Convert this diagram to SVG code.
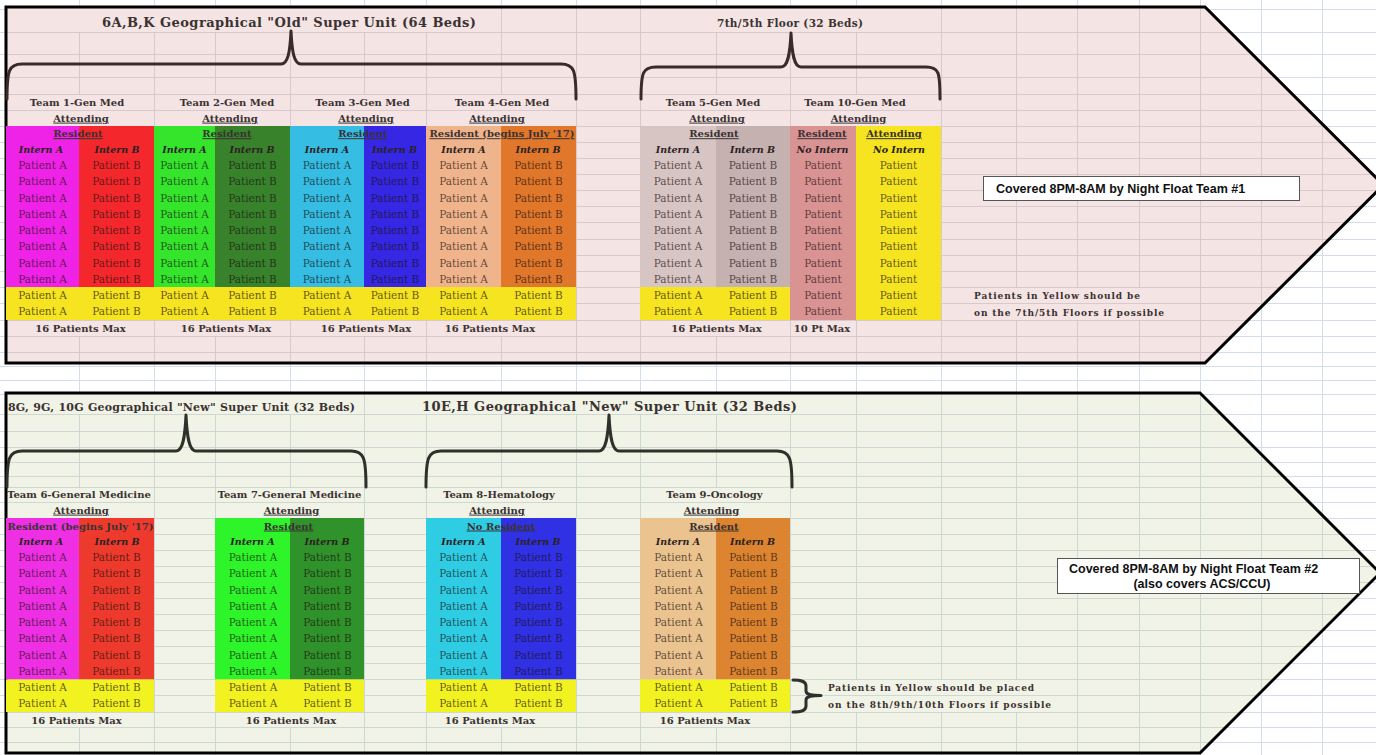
<svg xmlns="http://www.w3.org/2000/svg" width="1376" height="755" viewBox="0 0 1376 755">
<style>
.gout{stroke:#D5DCEA;stroke-width:1;fill:none}
.gtop{stroke:#D8C8D0;stroke-width:1;fill:none}
.gbot{stroke:#CDD7D4;stroke-width:1;fill:none}
.border{stroke:#000;stroke-width:3;fill:none;stroke-linejoin:miter}
.brace{fill:none;stroke:#3a2a2a;stroke-width:3;stroke-linecap:round;stroke-linejoin:round}
.braceb{fill:none;stroke:#2e312b;stroke-width:3;stroke-linecap:round;stroke-linejoin:round}
.p{font-family:"DejaVu Serif",serif;font-size:10.5px;fill:#1a1010;fill-opacity:.7;text-anchor:middle}
.h{font-family:"DejaVu Serif",serif;font-weight:bold;font-size:10px;fill:#3a3232;text-anchor:middle}
.u{text-decoration:underline}
.i{font-family:"DejaVu Serif",serif;font-weight:bold;font-style:italic;font-size:9.5px;fill:#2a2222;text-anchor:middle}
.ti{font-family:"DejaVu Serif",serif;font-weight:bold;fill:#3a3232}
.note{font-family:"DejaVu Serif",serif;font-weight:bold;font-size:9px;fill:#3a3232}
.nf{font-family:"Liberation Sans",Arial,sans-serif;font-weight:bold;font-size:12.5px;fill:#111}
.box{fill:#fff;stroke:#555;stroke-width:1}
.yt{fill:#F5E41F}
.yb{fill:#F2F221}
</style>
<defs>
<clipPath id="clipTop"><polygon points="6,7 1205,7 1383.5,185 1205,363 6,363"/></clipPath>
<clipPath id="clipBot"><polygon points="6,393 1200,393 1380,573 1200,753 6,753"/></clipPath>
</defs>

<rect width="1376" height="755" fill="#fff"/>
<g id="sheet-grid">
<path class="gout" d="M0,9.5H1376M0,32.5H1376M0,54.5H1376M0,77.5H1376M0,94.5H1376M0,110.5H1376M0,126.5H1376M0,142.5H1376M0,158.5H1376M0,174.5H1376M0,190.5H1376M0,206.5H1376M0,222.5H1376M0,239.5H1376M0,255.5H1376M0,271.5H1376M0,287.5H1376M0,303.5H1376M0,320.5H1376M0,336.5H1376M0,352.5H1376M0,366.5H1376M0,380.5H1376M0,394.5H1376M0,414.5H1376M0,431.5H1376M0,447.5H1376M0,462.5H1376M0,476.5H1376M0,487.5H1376M0,502.5H1376M0,518.5H1376M0,534.5H1376M0,550.5H1376M0,566.5H1376M0,582.5H1376M0,598.5H1376M0,614.5H1376M0,630.5H1376M0,646.5H1376M0,663.5H1376M0,679.5H1376M0,695.5H1376M0,712.5H1376M0,727.5H1376M0,742.5H1376"/>
<path class="gout" d="M79.5,0V755M154.5,0V755M215.5,0V755M290.5,0V755M364.5,0V755M426.5,0V755M501.5,0V755M576.5,0V755M640.5,0V755M716.5,0V755M790.5,0V755M856.5,0V755M941.5,0V755M1016.5,0V755M1077.5,0V755M1139.5,0V755M1200.5,0V755M1261.5,0V755M1322.5,0V755"/>
</g>

<g id="section-old">
<polygon points="6,7 1205,7 1383.5,185 1205,363 6,363" fill="#F4E4E4"/>
<g clip-path="url(#clipTop)">
<path class="gtop" d="M6,32.5H1390M6,54.5H1390M6,77.5H1390M6,94.5H1390M6,110.5H1390M6,126.5H1390M6,142.5H1390M6,158.5H1390M6,174.5H1390M6,190.5H1390M6,206.5H1390M6,222.5H1390M6,239.5H1390M6,255.5H1390M6,271.5H1390M6,287.5H1390M6,303.5H1390M6,320.5H1390M6,336.5H1390M6,352.5H1390"/>
<path class="gtop" d="M79.5,32V94M79.5,336V363M154.5,32V363M215.5,32V94M215.5,336V363M290.5,32V363M364.5,32V94M364.5,336V363M426.5,32V363M501.5,7V94M501.5,336V363M576.5,7V363M640.5,7V363M716.5,32V94M716.5,336V363M790.5,32V363M856.5,32V94M856.5,320V363M941.5,7V363M1016.5,7V287M1016.5,320V363M1077.5,7V287M1077.5,320V363M1139.5,7V287M1139.5,320V363M1200.5,7V363M1261.5,7V363M1322.5,7V363"/>
</g>
<polygon class="border" points="6,7 1205,7 1383.5,185 1205,363 6,363"/>
</g>

<g id="section-new">
<polygon points="6,393 1200,393 1380,573 1200,753 6,753" fill="#F0F3E6"/>
<g clip-path="url(#clipBot)">
<path class="gbot" d="M6,414.5H1390M6,431.5H1390M6,447.5H1390M6,462.5H1390M6,476.5H1390M6,487.5H1390M6,502.5H1390M6,518.5H1390M6,534.5H1390M6,550.5H1390M6,566.5H1390M6,582.5H1390M6,598.5H1390M6,614.5H1390M6,630.5H1390M6,646.5H1390M6,663.5H1390M6,679.5H1390M6,695.5H1390M6,712.5H1390M6,727.5H1390M6,742.5H1390"/>
<path class="gbot" d="M79.5,414V487M79.5,727V753M154.5,414V753M215.5,414V753M290.5,414V487M290.5,727V753M364.5,394V753M426.5,414V753M501.5,414V487M501.5,727V753M576.5,414V753M640.5,414V753M716.5,414V487M716.5,727V753M790.5,414V753M856.5,394V679M856.5,712V753M941.5,394V679M941.5,712V753M1016.5,394V679M1016.5,712V753M1077.5,394V753M1139.5,394V753M1200.5,394V753M1261.5,394V753M1322.5,394V753"/>
</g>
<polygon class="border" points="6,393 1200,393 1380,573 1200,753 6,753"/>
</g>

<g id="title-old"><text class="ti" x="289" y="27" font-size="13" text-anchor="middle" textLength="374">6A,B,K Geographical "Old" Super Unit (64 Beds)</text></g>
<g id="title-7th5th"><text class="ti" x="790" y="27" font-size="10.5" text-anchor="middle" textLength="146">7th/5th Floor (32 Beds)</text></g>
<g id="title-new1"><text class="ti" x="8" y="411" font-size="11" textLength="347">8G, 9G, 10G Geographical "New" Super Unit (32 Beds)</text></g>
<g id="title-new2"><text class="ti" x="422" y="411" font-size="13" textLength="375">10E,H Geographical "New" Super Unit (32 Beds)</text></g>

<!-- TEAM 1 -->
<g id="team1">
<rect x="6" y="126" width="73" height="161" fill="#EF23E8"/>
<rect x="79" y="126" width="75" height="161" fill="#F4282C"/>
<rect class="yt" x="6" y="287" width="148" height="33"/>
<g class="h"><text x="77" y="105.6">Team 1-Gen Med</text><text class="u" x="81" y="121.6">Attending</text><text class="u" x="78" y="137.2">Resident</text><text x="80.5" y="331.6">16 Patients Max</text></g>
<g class="i"><text x="41" y="152.9">Intern A</text><text x="117" y="152.9">Intern B</text></g>
<g class="p">
<text x="42.5" y="169.1">Patient A</text><text x="42.5" y="185.3">Patient A</text><text x="42.5" y="201.6">Patient A</text><text x="42.5" y="217.8">Patient A</text><text x="42.5" y="234.1">Patient A</text><text x="42.5" y="250.3">Patient A</text><text x="42.5" y="266.6">Patient A</text><text x="42.5" y="282.8">Patient A</text><text x="42.5" y="299.1">Patient A</text><text x="42.5" y="315.3">Patient A</text>
<text x="116.5" y="169.1">Patient B</text><text x="116.5" y="185.3">Patient B</text><text x="116.5" y="201.6">Patient B</text><text x="116.5" y="217.8">Patient B</text><text x="116.5" y="234.1">Patient B</text><text x="116.5" y="250.3">Patient B</text><text x="116.5" y="266.6">Patient B</text><text x="116.5" y="282.8">Patient B</text><text x="116.5" y="299.1">Patient B</text><text x="116.5" y="315.3">Patient B</text>
</g>
</g>

<!-- TEAM 2 -->
<g id="team2">
<rect x="154" y="126" width="61" height="161" fill="#34E52C"/>
<rect x="215" y="126" width="75" height="161" fill="#37822B"/>
<rect class="yt" x="154" y="287" width="136" height="33"/>
<g class="h"><text x="227" y="105.6">Team 2-Gen Med</text><text class="u" x="230" y="121.6">Attending</text><text class="u" x="227" y="137.2">Resident</text><text x="226" y="331.6">16 Patients Max</text></g>
<g class="i"><text x="184.5" y="152.9">Intern A</text><text x="252" y="152.9">Intern B</text></g>
<g class="p">
<text x="184.5" y="169.1">Patient A</text><text x="184.5" y="185.3">Patient A</text><text x="184.5" y="201.6">Patient A</text><text x="184.5" y="217.8">Patient A</text><text x="184.5" y="234.1">Patient A</text><text x="184.5" y="250.3">Patient A</text><text x="184.5" y="266.6">Patient A</text><text x="184.5" y="282.8">Patient A</text><text x="184.5" y="299.1">Patient A</text><text x="184.5" y="315.3">Patient A</text>
<text x="252.5" y="169.1">Patient B</text><text x="252.5" y="185.3">Patient B</text><text x="252.5" y="201.6">Patient B</text><text x="252.5" y="217.8">Patient B</text><text x="252.5" y="234.1">Patient B</text><text x="252.5" y="250.3">Patient B</text><text x="252.5" y="266.6">Patient B</text><text x="252.5" y="282.8">Patient B</text><text x="252.5" y="299.1">Patient B</text><text x="252.5" y="315.3">Patient B</text>
</g>
</g>

<!-- TEAM 3 -->
<g id="team3">
<rect x="290" y="126" width="74" height="161" fill="#35BDE3"/>
<rect x="364" y="126" width="62" height="161" fill="#3527E4"/>
<rect class="yt" x="290" y="287" width="136" height="33"/>
<g class="h"><text x="362.5" y="105.6">Team 3-Gen Med</text><text class="u" x="366" y="121.6">Attending</text><text class="u" x="363" y="137.2">Resident</text><text x="366" y="331.6">16 Patients Max</text></g>
<g class="i"><text x="327" y="152.9">Intern A</text><text x="394.5" y="152.9">Intern B</text></g>
<g class="p">
<text x="327" y="169.1">Patient A</text><text x="327" y="185.3">Patient A</text><text x="327" y="201.6">Patient A</text><text x="327" y="217.8">Patient A</text><text x="327" y="234.1">Patient A</text><text x="327" y="250.3">Patient A</text><text x="327" y="266.6">Patient A</text><text x="327" y="282.8">Patient A</text><text x="327" y="299.1">Patient A</text><text x="327" y="315.3">Patient A</text>
<text x="395" y="169.1">Patient B</text><text x="395" y="185.3">Patient B</text><text x="395" y="201.6">Patient B</text><text x="395" y="217.8">Patient B</text><text x="395" y="234.1">Patient B</text><text x="395" y="250.3">Patient B</text><text x="395" y="266.6">Patient B</text><text x="395" y="282.8">Patient B</text><text x="395" y="299.1">Patient B</text><text x="395" y="315.3">Patient B</text>
</g>
</g>

<!-- TEAM 4 -->
<g id="team4">
<rect x="426" y="126" width="75" height="161" fill="#F0B48C"/>
<rect x="501" y="126" width="75" height="161" fill="#E1772A"/>
<rect class="yt" x="426" y="287" width="150" height="33"/>
<g class="h"><text x="502" y="105.6">Team 4-Gen Med</text><text class="u" x="497" y="121.6">Attending</text><text class="u" x="502" y="137.2" textLength="145">Resident (begins July '17)</text><text x="490" y="331.6">16 Patients Max</text></g>
<g class="i"><text x="463.5" y="152.9">Intern A</text><text x="538" y="152.9">Intern B</text></g>
<g class="p">
<text x="463.5" y="169.1">Patient A</text><text x="463.5" y="185.3">Patient A</text><text x="463.5" y="201.6">Patient A</text><text x="463.5" y="217.8">Patient A</text><text x="463.5" y="234.1">Patient A</text><text x="463.5" y="250.3">Patient A</text><text x="463.5" y="266.6">Patient A</text><text x="463.5" y="282.8">Patient A</text><text x="463.5" y="299.1">Patient A</text><text x="463.5" y="315.3">Patient A</text>
<text x="538.5" y="169.1">Patient B</text><text x="538.5" y="185.3">Patient B</text><text x="538.5" y="201.6">Patient B</text><text x="538.5" y="217.8">Patient B</text><text x="538.5" y="234.1">Patient B</text><text x="538.5" y="250.3">Patient B</text><text x="538.5" y="266.6">Patient B</text><text x="538.5" y="282.8">Patient B</text><text x="538.5" y="299.1">Patient B</text><text x="538.5" y="315.3">Patient B</text>
</g>
</g>

<!-- TEAM 5 -->
<g id="team5">
<rect x="640" y="126" width="76" height="161" fill="#D7C5C4"/>
<rect x="716" y="126" width="74" height="161" fill="#C5B1B0"/>
<rect class="yt" x="640" y="287" width="150" height="33"/>
<g class="h"><text x="713" y="105.6">Team 5-Gen Med</text><text class="u" x="717" y="121.6">Attending</text><text class="u" x="714" y="137.2">Resident</text><text x="716.5" y="331.6">16 Patients Max</text></g>
<g class="i"><text x="678" y="152.9">Intern A</text><text x="752.5" y="152.9">Intern B</text></g>
<g class="p">
<text x="678" y="169.1">Patient A</text><text x="678" y="185.3">Patient A</text><text x="678" y="201.6">Patient A</text><text x="678" y="217.8">Patient A</text><text x="678" y="234.1">Patient A</text><text x="678" y="250.3">Patient A</text><text x="678" y="266.6">Patient A</text><text x="678" y="282.8">Patient A</text><text x="678" y="299.1">Patient A</text><text x="678" y="315.3">Patient A</text>
<text x="753" y="169.1">Patient B</text><text x="753" y="185.3">Patient B</text><text x="753" y="201.6">Patient B</text><text x="753" y="217.8">Patient B</text><text x="753" y="234.1">Patient B</text><text x="753" y="250.3">Patient B</text><text x="753" y="266.6">Patient B</text><text x="753" y="282.8">Patient B</text><text x="753" y="299.1">Patient B</text><text x="753" y="315.3">Patient B</text>
</g>
</g>

<!-- TEAM 10 -->
<g id="team10">
<rect x="790" y="126" width="66" height="194" fill="#D99393"/>
<rect class="yt" x="856" y="126" width="85" height="194"/>
<g class="h"><text x="855" y="105.6">Team 10-Gen Med</text><text class="u" x="858.5" y="121.6">Attending</text><text class="u" x="822" y="137.2">Resident</text><text class="u" x="894" y="137.2">Attending</text><text x="822" y="331.6">10 Pt Max</text></g>
<g class="i"><text x="822.5" y="152.9">No Intern</text><text x="899" y="152.9">No Intern</text></g>
<g class="p">
<text x="823" y="169.1">Patient</text><text x="823" y="185.3">Patient</text><text x="823" y="201.6">Patient</text><text x="823" y="217.8">Patient</text><text x="823" y="234.1">Patient</text><text x="823" y="250.3">Patient</text><text x="823" y="266.6">Patient</text><text x="823" y="282.8">Patient</text><text x="823" y="299.1">Patient</text><text x="823" y="315.3">Patient</text>
<text x="898.5" y="169.1">Patient</text><text x="898.5" y="185.3">Patient</text><text x="898.5" y="201.6">Patient</text><text x="898.5" y="217.8">Patient</text><text x="898.5" y="234.1">Patient</text><text x="898.5" y="250.3">Patient</text><text x="898.5" y="266.6">Patient</text><text x="898.5" y="282.8">Patient</text><text x="898.5" y="299.1">Patient</text><text x="898.5" y="315.3">Patient</text>
</g>
</g>

<g id="note-top" class="note"><text x="974" y="299.3" textLength="166">Patients in Yellow should be</text><text x="974" y="315.5" textLength="190">on the 7th/5th Floors if possible</text></g>

<g id="nightfloat1"><rect class="box" x="983.5" y="176.5" width="316" height="24"/><text class="nf" x="996" y="192.6">Covered 8PM-8AM by Night Float Team #1</text></g>

<!-- TEAM 6 -->
<g id="team6">
<rect x="6" y="518" width="73" height="161.5" fill="#EE2FE4"/>
<rect x="79" y="518" width="75" height="161.5" fill="#EE3A2C"/>
<rect class="yb" x="6" y="679.5" width="148" height="32.5"/>
<g class="h"><text x="79" y="497.6">Team 6-General Medicine</text><text class="u" x="81" y="513.6">Attending</text><text x="80.5" y="529.5" textLength="146">Resident (begins July '17)</text><text x="76.5" y="723.5">16 Patients Max</text></g>
<g class="i"><text x="41" y="544.9">Intern A</text><text x="117" y="544.9">Intern B</text></g>
<g class="p">
<text x="42.5" y="561.1">Patient A</text><text x="42.5" y="577.3">Patient A</text><text x="42.5" y="593.6">Patient A</text><text x="42.5" y="609.8">Patient A</text><text x="42.5" y="626.1">Patient A</text><text x="42.5" y="642.3">Patient A</text><text x="42.5" y="658.6">Patient A</text><text x="42.5" y="674.8">Patient A</text><text x="42.5" y="691.1">Patient A</text><text x="42.5" y="707.3">Patient A</text>
<text x="116.5" y="561.1">Patient B</text><text x="116.5" y="577.3">Patient B</text><text x="116.5" y="593.6">Patient B</text><text x="116.5" y="609.8">Patient B</text><text x="116.5" y="626.1">Patient B</text><text x="116.5" y="642.3">Patient B</text><text x="116.5" y="658.6">Patient B</text><text x="116.5" y="674.8">Patient B</text><text x="116.5" y="691.1">Patient B</text><text x="116.5" y="707.3">Patient B</text>
</g>
</g>

<!-- TEAM 7 -->
<g id="team7">
<rect x="215" y="518" width="75" height="161.5" fill="#2EF42A"/>
<rect x="290" y="518" width="74" height="161.5" fill="#30922A"/>
<rect class="yb" x="215" y="679.5" width="149" height="32.5"/>
<g class="h"><text x="289.5" y="497.6">Team 7-General Medicine</text><text class="u" x="291.5" y="513.6">Attending</text><text class="u" x="288.5" y="529.5">Resident</text><text x="291" y="723.5">16 Patients Max</text></g>
<g class="i"><text x="252.5" y="544.9">Intern A</text><text x="327" y="544.9">Intern B</text></g>
<g class="p">
<text x="253" y="561.1">Patient A</text><text x="253" y="577.3">Patient A</text><text x="253" y="593.6">Patient A</text><text x="253" y="609.8">Patient A</text><text x="253" y="626.1">Patient A</text><text x="253" y="642.3">Patient A</text><text x="253" y="658.6">Patient A</text><text x="253" y="674.8">Patient A</text><text x="253" y="691.1">Patient A</text><text x="253" y="707.3">Patient A</text>
<text x="327.5" y="561.1">Patient B</text><text x="327.5" y="577.3">Patient B</text><text x="327.5" y="593.6">Patient B</text><text x="327.5" y="609.8">Patient B</text><text x="327.5" y="626.1">Patient B</text><text x="327.5" y="642.3">Patient B</text><text x="327.5" y="658.6">Patient B</text><text x="327.5" y="674.8">Patient B</text><text x="327.5" y="691.1">Patient B</text><text x="327.5" y="707.3">Patient B</text>
</g>
</g>

<!-- TEAM 8 -->
<g id="team8">
<rect x="426" y="518" width="75" height="161.5" fill="#2ECDE4"/>
<rect x="501" y="518" width="75" height="161.5" fill="#3030E4"/>
<rect class="yb" x="426" y="679.5" width="150" height="32.5"/>
<g class="h"><text x="499" y="497.6">Team 8-Hematology</text><text class="u" x="497" y="513.6">Attending</text><text class="u" x="501" y="529.5">No Resident</text><text x="490" y="723.5">16 Patients Max</text></g>
<g class="i"><text x="463.5" y="544.9">Intern A</text><text x="538" y="544.9">Intern B</text></g>
<g class="p">
<text x="463.5" y="561.1">Patient A</text><text x="463.5" y="577.3">Patient A</text><text x="463.5" y="593.6">Patient A</text><text x="463.5" y="609.8">Patient A</text><text x="463.5" y="626.1">Patient A</text><text x="463.5" y="642.3">Patient A</text><text x="463.5" y="658.6">Patient A</text><text x="463.5" y="674.8">Patient A</text><text x="463.5" y="691.1">Patient A</text><text x="463.5" y="707.3">Patient A</text>
<text x="538.5" y="561.1">Patient B</text><text x="538.5" y="577.3">Patient B</text><text x="538.5" y="593.6">Patient B</text><text x="538.5" y="609.8">Patient B</text><text x="538.5" y="626.1">Patient B</text><text x="538.5" y="642.3">Patient B</text><text x="538.5" y="658.6">Patient B</text><text x="538.5" y="674.8">Patient B</text><text x="538.5" y="691.1">Patient B</text><text x="538.5" y="707.3">Patient B</text>
</g>
</g>

<!-- TEAM 9 -->
<g id="team9">
<rect x="640" y="518" width="76" height="161.5" fill="#EBC38F"/>
<rect x="716" y="518" width="74" height="161.5" fill="#DC842F"/>
<rect class="yb" x="640" y="679.5" width="150" height="32.5"/>
<g class="h"><text x="714.5" y="497.6">Team 9-Oncology</text><text class="u" x="711.5" y="513.6">Attending</text><text class="u" x="714" y="529.5">Resident</text><text x="705" y="723.5">16 Patients Max</text></g>
<g class="i"><text x="678" y="544.9">Intern A</text><text x="752.5" y="544.9">Intern B</text></g>
<g class="p">
<text x="678.5" y="561.1">Patient A</text><text x="678.5" y="577.3">Patient A</text><text x="678.5" y="593.6">Patient A</text><text x="678.5" y="609.8">Patient A</text><text x="678.5" y="626.1">Patient A</text><text x="678.5" y="642.3">Patient A</text><text x="678.5" y="658.6">Patient A</text><text x="678.5" y="674.8">Patient A</text><text x="678.5" y="691.1">Patient A</text><text x="678.5" y="707.3">Patient A</text>
<text x="753.5" y="561.1">Patient B</text><text x="753.5" y="577.3">Patient B</text><text x="753.5" y="593.6">Patient B</text><text x="753.5" y="609.8">Patient B</text><text x="753.5" y="626.1">Patient B</text><text x="753.5" y="642.3">Patient B</text><text x="753.5" y="658.6">Patient B</text><text x="753.5" y="674.8">Patient B</text><text x="753.5" y="691.1">Patient B</text><text x="753.5" y="707.3">Patient B</text>
</g>
</g>

<g id="note-bottom" class="note"><text x="828" y="691.3" textLength="206">Patients in Yellow should be placed</text><text x="828" y="707.5" textLength="223">on the 8th/9th/10th Floors if possible</text></g>

<g id="nightfloat2"><rect class="box" x="1057.5" y="558.5" width="302" height="35"/><text class="nf" x="1069" y="573">Covered 8PM-8AM by Night Float Team #2</text><text class="nf" x="1202" y="588" text-anchor="middle">(also covers ACS/CCU)</text></g>

<g id="connectors">
<path class="brace" d="M7,99C7,70 9,64 22,64L281,64C288,64 290,52 291,31C292,52 294,64 301,64L561,64C574,64 576,70 576,99"/>
<path class="brace" d="M641,99C641,72 643,67 656,67L781,67C788,67 790,54 791,33C792,54 794,67 801,67L926,67C939,67 940,72 940,99"/>
<path class="braceb" d="M7,487C7,458 9,451 22,451L176,451C183,451 185,437 186,415C187,437 189,451 196,451L351,451C364,451 366,458 366,487"/>
<path class="braceb" d="M426,487C426,458 428,451 441,451L599,451C606,451 608,437 609,415C610,437 612,451 619,451L777,451C790,451 792,458 792,487"/>
<path class="braceb" d="M793,680C801,680 806,681 806,686L806,691C806,694 809,695.5 821,695.5C809,695.5 806,697 806,700L806,706C806,711 801,712 793,712"/>
</g>
</svg>
